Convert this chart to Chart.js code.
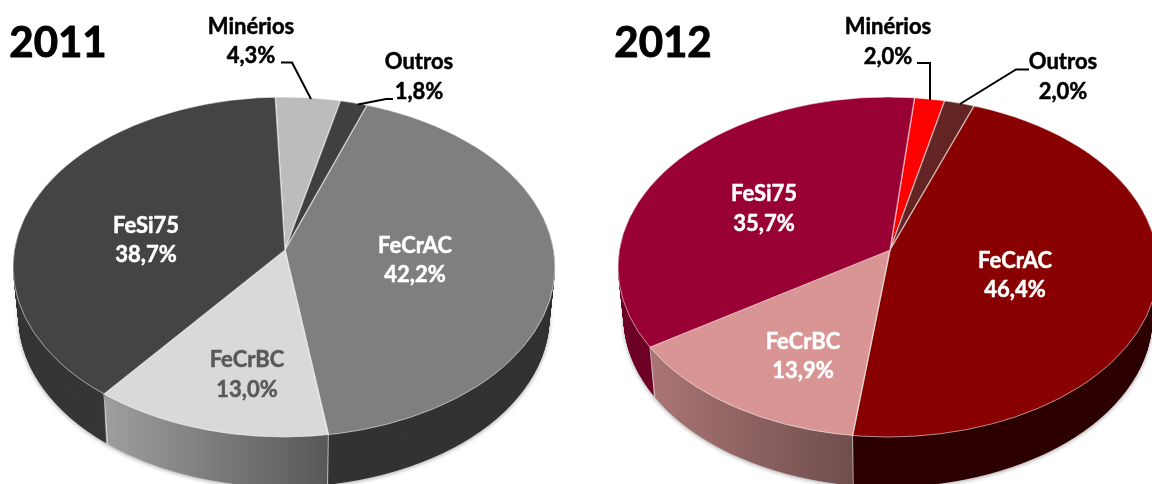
<!DOCTYPE html>
<html><head><meta charset="utf-8">
<style>html,body{margin:0;padding:0;background:#fff;overflow:hidden}
#w{position:relative;width:1152px;height:484px}
canvas{position:absolute;left:0;top:0}</style>
<script src="https://cdn.jsdelivr.net/npm/chart.js@4"></script>
</head><body><div id="w"><canvas id="a" width="1152" height="484"></canvas><canvas id="b" width="1152" height="484"></canvas></div>
<script>
const categories = ['Minérios','Outros','FeCrAC','FeCrBC','FeSi75'];
const values2011 = [4.3,1.8,42.2,13.0,38.7];
const values2012 = [2.0,2.0,46.4,13.9,35.7];
const colors2011 = ['#bcbcbc','#404040','#7f7f7f','#d9d9d9','#444444'];
const colors2012 = ['#ff0000','#632523','#880000','#d99594','#990033'];
const side2011 = ['#8a8a8a','#2c2c2c','#333333',['#a0a0a0','#585858'],'#363636'];
const side2012 = ['#a00000','#401515','#2e0000',['#ab7575','#6f4d4d'],'#6e0026'];

const P1 = {year:'2011',titleX:58,titleY:43,ax:285,ay:250,cx:284,cy:267,rx:271,ry:170,rot:-2.3,depth:50,
  gradX:[100,327],
  labelPos:[[251,27,251,56],[419,62,419,92],[415,246,415,275],[247,360,247,390],[146,226,146,255]],
  labelCol:['#000','#000','#fff','#595959','#fff'],
  leaders:[[[281,62.5],[292,62.5],[311,99]],[[358,104.5],[386,99],[393,99]]]};
const P2 = {year:'2012',titleX:663,titleY:43,ax:890,ay:250,cx:888,cy:267,rx:270,ry:170,rot:5.8,depth:50,
  gradX:[651,855],
  labelPos:[[888,27,888,57],[1063,62,1063,92],[1015,261,1015,290],[803,342,803,371],[764,194,764,224]],
  labelCol:['#000','#000','#fff','#fff','#fff'],
  leaders:[[[917,63],[930,63],[930,100]],[[960,104],[1016,69.5],[1029,69.5]]]};
const K = 0.63, FONT = 'Lato, Carlito, sans-serif';

function ellipsePath(ctx,p,d){
  const t = 1 - 0.02*d/p.depth;
  ctx.beginPath();
  ctx.ellipse(p.cx,p.cy+d,p.rx*t,p.ry,0,0,Math.PI*2);
}
function pieXform(ctx,p,el,d){
  ctx.translate(p.ax,p.ay+d);
  ctx.scale(1,K);
  ctx.translate(-el.x,-el.y);
}
function rimPoint(p,a){
  const dx=Math.cos(a), dy=K*Math.sin(a);
  const ox=(p.ax-p.cx)/p.rx, oy=(p.ay-p.cy)/p.ry, ux=dx/p.rx, uy=dy/p.ry;
  const A=ux*ux+uy*uy, B=2*(ox*ux+oy*uy), C=ox*ox+oy*oy-1;
  const s=(-B+Math.sqrt(B*B-4*A*C))/(2*A);
  return [p.ax+s*dx,p.ay+s*dy];
}
function boldText(ctx,s,x,y,w){
  ctx.lineWidth=w; ctx.lineJoin='round'; ctx.strokeStyle=ctx.fillStyle;
  ctx.strokeText(s,x,y); ctx.fillText(s,x,y);
}
function makePlugin(p,sides){
  return {
    id:'tilt',
    beforeDatasetsDraw(chart){
      const ctx=chart.ctx, els=chart.getDatasetMeta(0).data, el=els[0];
      ctx.save();
      ctx.shadowColor='rgba(90,90,90,.55)'; ctx.shadowBlur=4; ctx.shadowOffsetY=1;
      ellipsePath(ctx,p,p.depth); ctx.fillStyle='#ddd'; ctx.fill();
      ctx.restore();
      const fills=sides.map(s=>{
        if(!Array.isArray(s)) return s;
        const g=ctx.createLinearGradient(p.gradX[0]-p.ax+el.x,0,p.gradX[1]-p.ax+el.x,0);
        g.addColorStop(0,s[0]); g.addColorStop(1,s[1]); return g;
      });
      for(let d=p.depth;d>=1;d--){
        ctx.save();
        ellipsePath(ctx,p,d); ctx.clip();
        pieXform(ctx,p,el,d);
        els.forEach((e,i)=>{
          const saved=e.options;
          e.options=Object.create(saved,{backgroundColor:{value:fills[i]},borderWidth:{value:0}});
          e.draw(ctx);
          e.options=saved;
        });
        ctx.restore();
      }
      ctx.save(); ctx.strokeStyle='rgba(255,255,255,.6)'; ctx.lineWidth=1;
      els.forEach(e=>{
        const r=rimPoint(p,e.endAngle);
        if(r[1]>p.cy+20){
          ctx.beginPath(); ctx.moveTo(r[0],r[1]);
          ctx.lineTo(r[0]+(p.cx-r[0])*0.02,r[1]+p.depth); ctx.stroke();
        }
      });
      ctx.restore();
      ctx.save();
      ellipsePath(ctx,p,0); ctx.clip();
      pieXform(ctx,p,el,0);
    },
    afterDatasetsDraw(chart){
      const ctx=chart.ctx;
      ctx.restore();
      ctx.save();
      ellipsePath(ctx,p,0); ctx.strokeStyle='rgba(255,255,255,.55)'; ctx.lineWidth=1; ctx.stroke();
      ctx.strokeStyle='#000'; ctx.lineWidth=2; ctx.lineJoin='miter';
      p.leaders.forEach(l=>{
        ctx.beginPath(); ctx.moveTo(l[0][0],l[0][1]);
        l.slice(1).forEach(q=>ctx.lineTo(q[0],q[1])); ctx.stroke();
      });
      ctx.textAlign='center'; ctx.textBaseline='middle';
      ctx.font='bold 42px '+FONT; ctx.fillStyle='#000';
      boldText(ctx,p.year,p.titleX,p.titleY,1);
      const vals=chart.data.datasets[0].data;
      ctx.font='bold 22px '+FONT;
      chart.data.labels.forEach((c,i)=>{
        const q=p.labelPos[i];
        ctx.fillStyle=p.labelCol[i];
        boldText(ctx,c,q[0],q[1],0.5);
        boldText(ctx,vals[i].toFixed(1).replace('.',',')+'%',q[2],q[3],0.5);
      });
      ctx.restore();
    }
  };
}
function build(id,vals,cols,sides,p){
  return new Chart(document.getElementById(id),{
    type:'pie',
    data:{labels:categories,datasets:[{data:vals,backgroundColor:cols,borderColor:'rgba(255,255,255,.55)',borderWidth:1.4,radius:420,clip:false}]},
    options:{responsive:false,animation:false,rotation:p.rot,events:[],
      layout:{padding:0},plugins:{legend:{display:false},tooltip:{enabled:false}}},
    plugins:[makePlugin(p,sides)]
  });
}
build('a',values2011,colors2011,side2011,P1);
build('b',values2012,colors2012,side2012,P2);
</script></body></html>
